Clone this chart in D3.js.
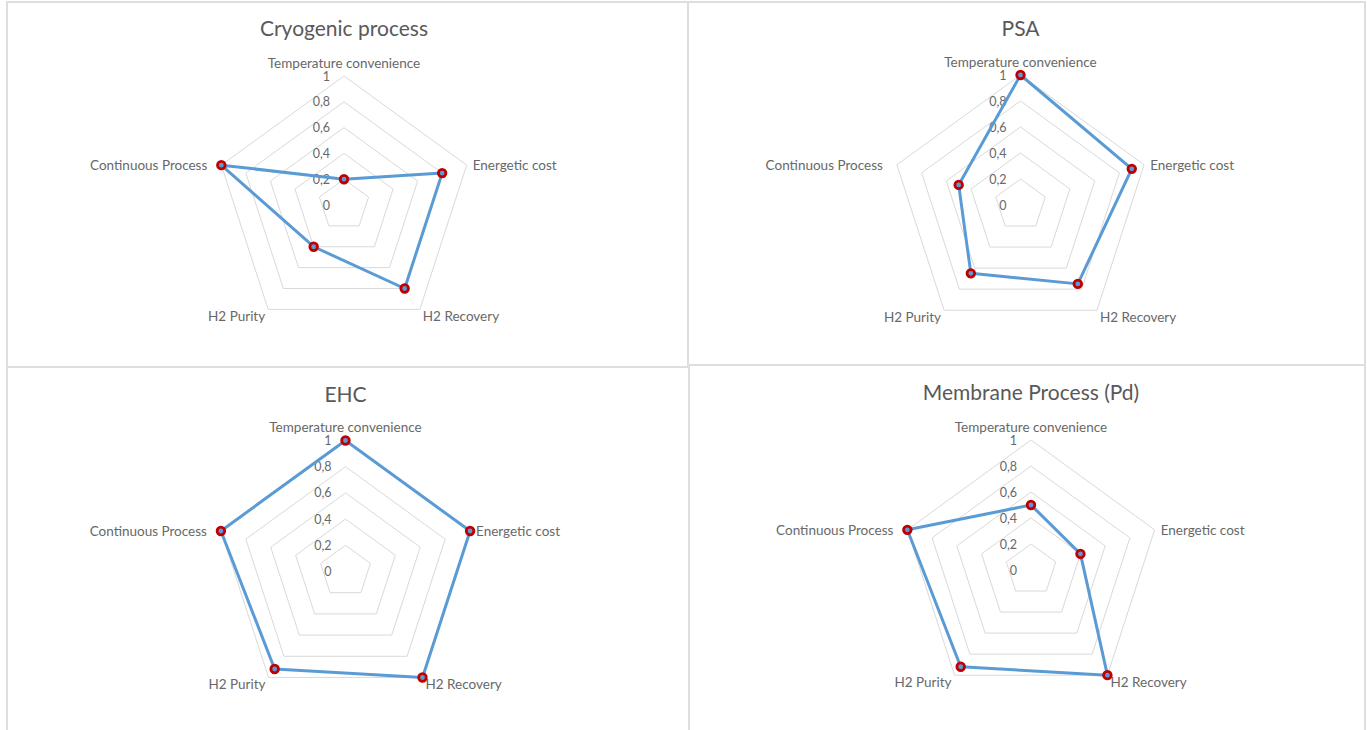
<!DOCTYPE html>
<html>
<head>
<meta charset="utf-8">
<script src="https://cdn.jsdelivr.net/npm/d3@7"></script>
<style>
  html, body { margin: 0; padding: 0; background: #ffffff; }
  svg { display: block; }
  text { font-family: Lato, "Open Sans", sans-serif; fill: #595959; }
  .axis-label, .tick-label { fill: #686868; }
</style>
</head>
<body>
<svg id="chart" width="1367" height="730"></svg>
<script>
// Criteria shared by every radar, clockwise from the top
const categories = ["Temperature convenience", "Energetic cost", "H2 Recovery", "H2 Purity", "Continuous Process"];

// Scores per separation technology
const titles = ["Cryogenic process", "PSA", "EHC", "Membrane Process (Pd)"];
const cryogenicValues = [0.2, 0.8, 0.8, 0.4, 1];
const psaValues = [1, 0.9, 0.75, 0.65, 0.5];
const ehcValues = [1, 1, 1, 0.92, 1];
const membraneValues = [0.5, 0.4, 1, 0.92, 1];

// Radial axis
const tickValues = [0, 0.2, 0.4, 0.6, 0.8, 1];
const tickLabels = ["0", "0,2", "0,4", "0,6", "0,8", "1"];

const seriesValues = [cryogenicValues, psaValues, ehcValues, membraneValues];

// Panel frames and radar placement
const panels = [
  { x: 7,   y: 2,   w: 681, h: 365, cx: 344,    cy: 205,   R: 129, titleY: 27 },
  { x: 688, y: 2,   w: 677, h: 363, cx: 1020.5, cy: 205,   R: 130, titleY: 27 },
  { x: 7,   y: 367, w: 682, h: 370, cx: 345.5,  cy: 571.5, R: 131, titleY: 393 },
  { x: 689, y: 365, w: 676, h: 372, cx: 1031,   cy: 570,   R: 130, titleY: 391.5 }
];

const svg = d3.select("#chart");
const n = categories.length;
const angle = i => i * 2 * Math.PI / n;

panels.forEach((p, k) => {
  const values = seriesValues[k];
  const r = d3.scaleLinear().domain([0, 1]).range([0, p.R]);
  const px = (i, v) => p.cx + r(v) * Math.sin(angle(i));
  const py = (i, v) => p.cy - r(v) * Math.cos(angle(i));

  // frame
  svg.append("rect")
    .attr("x", p.x).attr("y", p.y).attr("width", p.w).attr("height", p.h)
    .attr("fill", "none").attr("stroke", "#dedede").attr("stroke-width", 2);

  const g = svg.append("g");

  // title
  g.append("text")
    .attr("x", p.cx).attr("y", p.titleY)
    .attr("text-anchor", "middle").attr("dominant-baseline", "central")
    .style("font-size", "21px")
    .text(titles[k]);

  // concentric pentagon grid
  const ring = d3.lineRadial()
    .angle((d, i) => angle(i))
    .radius(d => r(d))
    .curve(d3.curveLinearClosed);

  g.append("g")
    .attr("transform", `translate(${p.cx},${p.cy})`)
    .selectAll("path")
    .data(tickValues.filter(t => t > 0))
    .join("path")
    .attr("d", t => ring(d3.range(n).map(() => t)))
    .attr("fill", "none")
    .attr("stroke", "#d9d9d9")
    .attr("stroke-width", 1);

  // radial tick labels along the top axis
  g.append("g")
    .selectAll("text")
    .data(tickValues)
    .join("text")
    .attr("class", "tick-label")
    .attr("x", p.cx - 14)
    .attr("y", t => py(0, t))
    .attr("text-anchor", "end")
    .attr("dominant-baseline", "central")
    .style("font-size", "12.5px")
    .text((t, i) => tickLabels[i]);

  // category labels around the outer ring
  const labelPos = [
    { dx: 0,   dy: -13.5, anchor: "middle" },
    { dx: 6,   dy: 0,     anchor: "start" },
    { dx: 3,   dy: 7,     anchor: "start" },
    { dx: -3,  dy: 7,     anchor: "end" },
    { dx: -14, dy: 0,     anchor: "end" }
  ];
  g.append("g")
    .selectAll("text")
    .data(categories)
    .join("text")
    .attr("class", "axis-label")
    .attr("x", (c, i) => px(i, 1) + labelPos[i].dx)
    .attr("y", (c, i) => py(i, 1) + labelPos[i].dy)
    .attr("text-anchor", (c, i) => labelPos[i].anchor)
    .attr("dominant-baseline", "central")
    .style("font-size", "13.5px")
    .text(c => c);

  // series polygon
  g.append("path")
    .attr("transform", `translate(${p.cx},${p.cy})`)
    .attr("d", ring(values))
    .attr("fill", "none")
    .attr("stroke", "#5b9bd5")
    .attr("stroke-width", 3)
    .attr("stroke-linejoin", "round");

  // markers
  g.append("g")
    .selectAll("circle")
    .data(values)
    .join("circle")
    .attr("cx", (v, i) => px(i, v))
    .attr("cy", (v, i) => py(i, v))
    .attr("r", 3.8)
    .attr("fill", "#5b9bd5")
    .attr("stroke", "#c00000")
    .attr("stroke-width", 2.8);
});
</script>
</body>
</html>
